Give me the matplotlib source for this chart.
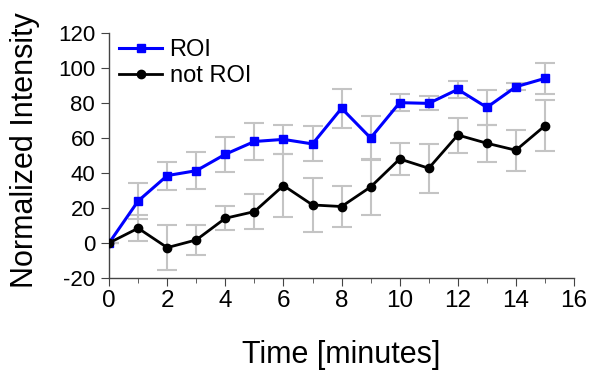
import matplotlib
matplotlib.use("Agg")
from matplotlib import pyplot as plt
from matplotlib.ticker import MultipleLocator
import numpy as np

plt.rcParams['font.family'] = ['Liberation Sans', 'DejaVu Sans']
plt.rcParams['axes.unicode_minus'] = False

minutes = np.arange(0, 16)
roi = [0, 24, 38.5, 41.3, 50.7, 58, 59.2, 56.6, 77, 60, 80.2, 79.8, 87.8, 77.5, 89.3, 94.1]
roi_err = [0, 10.5, 8, 10.5, 10, 10.7, 8.5, 10, 11, 12.5, 5, 4, 5, 10, 2, 9]
not_roi = [0, 8.4, -2.7, 1.7, 14.1, 17.9, 32.8, 21.7, 20.8, 32, 48, 42.7, 61.7, 57, 53, 67]
not_roi_err = [0, 7.5, 12.9, 8.7, 7, 10, 18, 15.5, 11.5, 16, 9, 14, 10, 10.5, 11.7, 14.5]

fig = plt.figure(figsize=(5.93, 3.76), dpi=100)
ax = fig.add_axes([0.184, 0.261, 0.784, 0.651])

ax.errorbar(minutes, not_roi, yerr=not_roi_err, fmt='none', ecolor='#c4c4c4',
            elinewidth=1.5, capsize=7.5, capthick=1.5, zorder=1)
ax.errorbar(minutes, roi, yerr=roi_err, fmt='none', ecolor='#c4c4c4',
            elinewidth=1.5, capsize=7.5, capthick=1.5, zorder=1)
ax.plot(minutes, roi, color='#0000ff', marker='s', markersize=5.5, linewidth=2.2,
        label='ROI', zorder=3)
ax.plot(minutes, not_roi, color='black', marker='o', markersize=6, linewidth=2,
        label='not ROI', zorder=3)

ax.set_xlim(0, 16)
ax.set_ylim(-20, 120)
ax.xaxis.set_major_locator(MultipleLocator(2))
ax.xaxis.set_minor_locator(MultipleLocator(1))
ax.yaxis.set_major_locator(MultipleLocator(20))
for s in ['top', 'right']:
    ax.spines[s].set_visible(False)
for s in ['left', 'bottom']:
    ax.spines[s].set_color('#444444')
    ax.spines[s].set_linewidth(1)
ax.tick_params(which='both', direction='out', colors='#444444', labelcolor='black')
ax.tick_params(axis='x', labelsize=17.5, pad=3)
ax.tick_params(axis='y', labelsize=16, pad=4)
ax.tick_params(which='major', length=6)
ax.tick_params(which='minor', length=3.5)

ax.set_xlabel('Time [minutes]', fontsize=22)
ax.set_ylabel('Normalized Intensity', fontsize=22)
ax.xaxis.set_label_coords(0.5, -0.255)
ax.yaxis.set_label_coords(-0.148, 0.522)
ax.legend(loc='upper left', frameon=False, fontsize=17, handlelength=1.86,
          handletextpad=0.3, borderaxespad=0, labelspacing=0.19,
          bbox_to_anchor=(0.0, 1.015))

fig.savefig('out.png', dpi=100)
